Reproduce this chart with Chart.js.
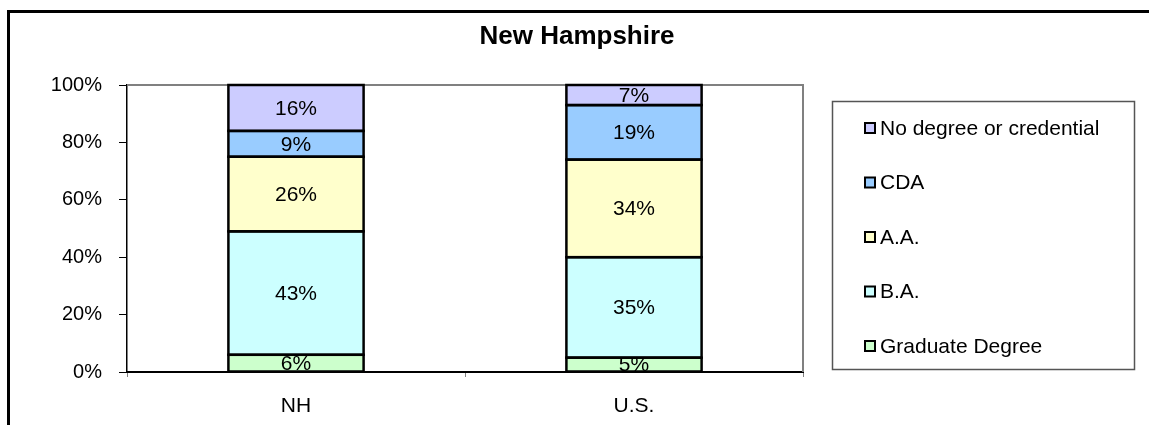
<!DOCTYPE html>
<html>
<head>
<meta charset="utf-8">
<script src="https://cdn.jsdelivr.net/npm/chart.js@4/dist/chart.umd.min.js"></script>
<style>
    html, body { margin: 0; padding: 0; background: #fff; overflow: hidden; }
    #frame {
        position: absolute; left: 7px; top: 10px;
        width: 1200px; height: 500px;
        border-left: 3px solid #000; border-top: 3px solid #000;
    }
    #wrap { position: absolute; left: 0; top: 0; width: 1149px; height: 425px; }
</style>
</head>
<body>
<div id="frame"></div>
<div id="wrap"><canvas id="chart" width="1149" height="425"></canvas></div>
<script>
// Chart data
const chartTitle = 'New Hampshire';
const categories = ['NH', 'U.S.'];
const graduateDegree = [6, 5];
const baDegree = [43, 35];
const aaDegree = [26, 34];
const cdaCredential = [9, 19];
const noDegree = [16, 7];
const yTickStep = 20;

const FONT = '"Liberation Sans", Arial, sans-serif';
Chart.defaults.font.family = FONT;
Chart.defaults.color = '#000';

// Title centred on the whole picture
const titlePlugin = {
    id: 'titlePlugin',
    afterDraw(chart) {
        const ctx = chart.ctx;
        ctx.save();
        ctx.font = 'bold 26px ' + FONT;
        ctx.fillStyle = '#000';
        ctx.textAlign = 'center';
        ctx.textBaseline = 'middle';
        ctx.fillText(chartTitle, 577, 37);
        ctx.restore();
    }
};

// Black outlines round each segment, then the value label in the middle
const segmentLabels = {
    id: 'segmentLabels',
    afterDatasetsDraw(chart) {
        const ctx = chart.ctx;
        ctx.save();
        ctx.strokeStyle = '#000';
        ctx.lineWidth = 2.5;
        chart.data.datasets.forEach((ds, i) => {
            chart.getDatasetMeta(i).data.forEach(bar => {
                const top = Math.min(bar.y, bar.base);
                const h = Math.abs(bar.base - bar.y);
                ctx.strokeRect(bar.x - bar.width / 2, top, bar.width, h);
            });
        });
        ctx.font = '21px ' + FONT;
        ctx.fillStyle = '#000';
        ctx.textAlign = 'center';
        ctx.textBaseline = 'middle';
        chart.data.datasets.forEach((ds, i) => {
            chart.getDatasetMeta(i).data.forEach((bar, j) => {
                ctx.fillText(ds.data[j] + '%', bar.x, (bar.y + bar.base) / 2 + 1);
            });
        });
        ctx.restore();
    }
};

// Grey plot-area frame (top and right)
const plotFrame = {
    id: 'plotFrame',
    beforeDatasetsDraw(chart) {
        const { ctx, chartArea: a } = chart;
        ctx.save();
        ctx.strokeStyle = '#808080';
        ctx.lineWidth = 2;
        ctx.beginPath();
        ctx.moveTo(a.left, a.top);
        ctx.lineTo(a.right, a.top);
        ctx.lineTo(a.right, a.bottom);
        ctx.stroke();
        ctx.restore();
    }
};

// Boxed legend on the right, top series first
const boxLegend = {
    id: 'boxLegend',
    afterDraw(chart) {
        const ctx = chart.ctx;
        ctx.save();
        ctx.strokeStyle = '#555';
        ctx.lineWidth = 1.5;
        ctx.strokeRect(832.5, 101.5, 302, 268);
        ctx.font = '21px ' + FONT;
        ctx.textBaseline = 'middle';
        ctx.textAlign = 'left';
        const items = chart.data.datasets.slice().reverse();
        items.forEach((ds, k) => {
            const y = 128 + k * 54.5;
            ctx.fillStyle = ds.backgroundColor;
            ctx.fillRect(865, y - 5, 10, 10);
            ctx.strokeStyle = '#000';
            ctx.lineWidth = 2;
            ctx.strokeRect(865, y - 5, 10, 10);
            ctx.fillStyle = '#000';
            ctx.fillText(ds.label, 880, y + 1);
        });
        ctx.restore();
    }
};

function seg(label, data, color) {
    return {
        label: label,
        data: data,
        backgroundColor: color,
        borderWidth: 0,
        barPercentage: 0.4,
        categoryPercentage: 1
    };
}

new Chart(document.getElementById('chart'), {
    type: 'bar',
    data: {
        labels: categories,
        datasets: [
            seg('Graduate Degree', graduateDegree, '#CCFFCC'),
            seg('B.A.', baDegree, '#CCFFFF'),
            seg('A.A.', aaDegree, '#FFFFCC'),
            seg('CDA', cdaCredential, '#99CCFF'),
            seg('No degree or credential', noDegree, '#CCCCFF')
        ]
    },
    options: {
        responsive: false,
        animation: false,
        layout: { padding: { left: 0, right: 346, top: 85, bottom: 0 } },
        plugins: {
            legend: { display: false },
            tooltip: { enabled: false },
            title: { display: false }
        },
        scales: {
            x: {
                stacked: true,
                afterFit(scale) { scale.height = 53; },
                grid: { offset: true, drawOnChartArea: false, tickLength: 5, color: '#808080' },
                border: { color: '#000', width: 2 },
                ticks: { font: { size: 21 }, color: '#000', padding: 17 }
            },
            y: {
                stacked: true,
                min: 0,
                max: 100,
                afterFit(scale) { scale.width = 127; },
                grid: { drawOnChartArea: false, tickLength: 8, color: '#000' },
                border: { color: '#000', width: 1.5 },
                ticks: {
                    stepSize: yTickStep,
                    font: { size: 20 },
                    color: '#000',
                    padding: 17,
                    callback: v => v + '%'
                }
            }
        }
    },
    plugins: [plotFrame, segmentLabels, boxLegend, titlePlugin]
});
</script>
</body>
</html>
